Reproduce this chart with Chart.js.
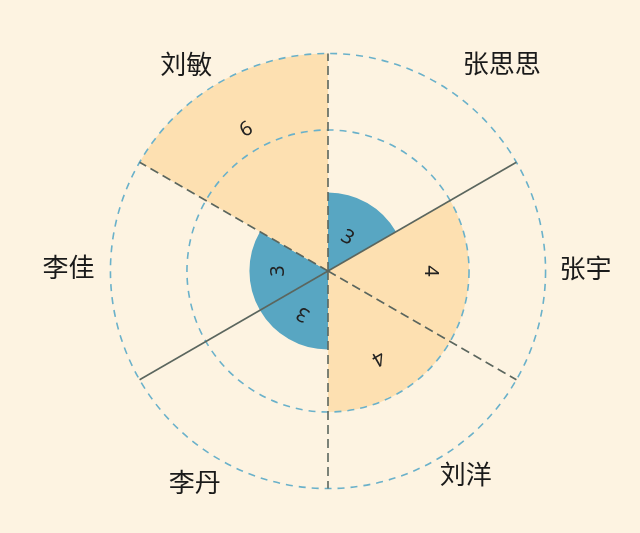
<!DOCTYPE html>
<html>
<head>
<meta charset="utf-8">
<script src="https://cdn.jsdelivr.net/npm/chart.js@4.4.1/dist/chart.umd.min.js"></script>
<style>
  html, body { margin: 0; padding: 0; background: #fdf3e1; }
  #wrap { width: 640px; height: 533px; position: relative; }
</style>
</head>
<body>
<div id="wrap"><canvas id="c"></canvas></div>
<script>
// ---- data ----
const categories = ['张思思', '张宇', '刘洋', '李丹', '李佳', '刘敏'];
const scores = [3, 4, 4, 3, 3, 6];
const ringValues = [4, 6];
const axisMin = 2.55;
const axisMax = 6;

// ---- styles ----
const BLUE = '#58a6c2';
const ORANGE = '#fde0b1';
const labelPad = [18, 14, 2, 7, 16, 8];
const labelNudge = [[17, 9], [0, -3], [2, 0], [5, 4], [0, -4], [-3, 1]];
const valueLabelFrac = [0.49, 0.73, 0.71, 0.63, 0.63, 0.75];
const solidSpokes = [1, 4];

// radial scale with square-root radius mapping (area-proportional)
const Base = Chart.RadialLinearScale || Chart.registry.getScale('radialLinear');
class RadialSqrtScale extends Base {
  getDistanceFromCenterForValue(value) {
    if (value === null || value === undefined || isNaN(value)) return NaN;
    const t = Math.max(0, (value - this.min) / (this.max - this.min));
    return this.drawingArea * Math.sqrt(t);
  }
  getValueForDistanceFromCenter(distance) {
    const t = Math.pow(distance / this.drawingArea, 2);
    return this.min + t * (this.max - this.min);
  }
  fit() {
    super.fit();
    (this._pointLabelItems || []).forEach((item, i) => {
      const n = labelNudge[i] || [0, 0];
      item.x += n[0]; item.left += n[0]; item.right += n[0];
      item.y += n[1]; item.top += n[1]; item.bottom += n[1];
    });
  }
}
RadialSqrtScale.id = 'radialSqrt';
RadialSqrtScale.defaults = Base.defaults;
Chart.register(RadialSqrtScale);

const valueLabels = {
  id: 'valueLabels',
  afterDatasetsDraw(chart) {
    const meta = chart.getDatasetMeta(0);
    const data = chart.data.datasets[0].data;
    const ctx = chart.ctx;
    ctx.save();
    ctx.font = '20px "Noto Sans", "DejaVu Sans", sans-serif';
    ctx.fillStyle = '#222222';
    ctx.textAlign = 'center';
    ctx.textBaseline = 'middle';
    meta.data.forEach((arc, i) => {
      const p = arc.getProps(['x', 'y', 'startAngle', 'endAngle', 'outerRadius'], true);
      const mid = (p.startAngle + p.endAngle) / 2;
      const d = p.outerRadius * valueLabelFrac[i];
      ctx.save();
      ctx.translate(p.x + Math.cos(mid) * d, p.y + Math.sin(mid) * d);
      ctx.rotate(mid + Math.PI / 2);
      ctx.fillText(String(data[i]), 0, 0);
      ctx.restore();
    });
    ctx.restore();
  }
};

new Chart(document.getElementById('c'), {
  type: 'polarArea',
  data: {
    labels: categories,
    datasets: [{
      data: scores,
      backgroundColor: [BLUE, ORANGE, ORANGE, BLUE, BLUE, ORANGE],
      borderWidth: 0
    }]
  },
  options: {
    responsive: true,
    maintainAspectRatio: false,
    animation: false,
    layout: { padding: { left: 28, right: 12, top: 36, bottom: 37 } },
    plugins: {
      legend: { display: false },
      tooltip: { enabled: false }
    },
    scales: {
      r: {
        type: 'radialSqrt',
        min: axisMin,
        max: axisMax,
        beginAtZero: false,
        bounds: 'data',
        startAngle: 0,
        afterBuildTicks: (scale) => {
          scale.ticks = [scale.min, ...ringValues].map(v => ({ value: v }));
        },
        ticks: { display: false, z: 1 },
        grid: {
          display: true,
          z: 1,
          circular: true,
          color: '#6ab1ca',
          lineWidth: 1.6,
          borderDash: [7, 6]
        },
        border: { dash: [7, 6], z: 1 },
        angleLines: {
          display: true,
          color: '#5b665e',
          lineWidth: 1.6,
          borderDash: (ctx) => solidSpokes.includes(ctx.index) ? [] : [9, 5]
        },
        pointLabels: {
          display: true,
          centerPointLabels: true,
          color: '#1a1a1a',
          font: { family: '"Noto Sans CJK SC", "Noto Sans", sans-serif', size: 26, lineHeight: 1 },
          padding: (ctx) => labelPad[ctx.index]
        }
      }
    }
  },
  plugins: [valueLabels]
});
</script>
</body>
</html>
